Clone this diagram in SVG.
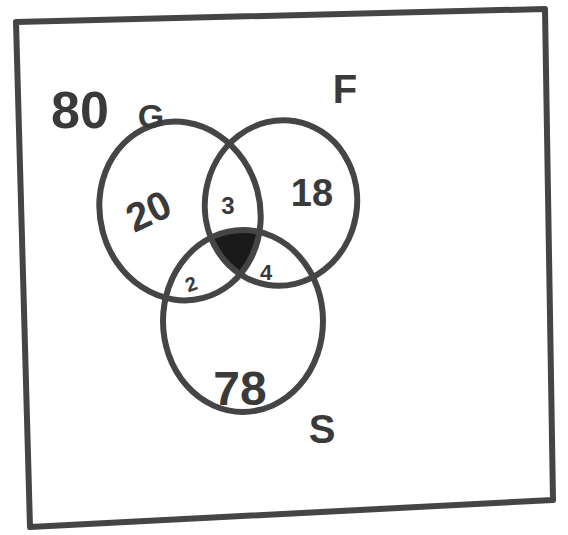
<svg xmlns="http://www.w3.org/2000/svg" width="568" height="535" viewBox="0 0 568 535">
<style>
.ln{fill:none;stroke:#454545;stroke-width:6;stroke-linecap:round;stroke-linejoin:round}
.t{font-family:"Liberation Sans","DejaVu Sans",sans-serif;fill:#3a3a3a;font-weight:bold;text-anchor:middle}
.d{fill:#1a1a1a}
</style>
<defs>
<clipPath id="cg"><ellipse cx="180" cy="211" rx="80" ry="90" transform="rotate(-15 180 211)"/></clipPath>
<clipPath id="cf"><ellipse cx="281" cy="203" rx="76" ry="83" transform="rotate(10 281 203)"/></clipPath>
</defs>
<rect width="568" height="535" fill="#fff"/>
<g id="frame"><path class="ln" d="M16,22 L545,9 L553,500 L30,527 Z"/></g>
<g id="intersection"><g clip-path="url(#cf)"><g clip-path="url(#cg)"><ellipse class="d" cx="243" cy="321" rx="80" ry="91"/></g></g></g>
<g id="circles">
<g id="G"><ellipse class="ln" cx="180" cy="211" rx="80" ry="90" transform="rotate(-15 180 211)"/></g>
<g id="F"><ellipse class="ln" cx="281" cy="203" rx="76" ry="83" transform="rotate(10 281 203)"/></g>
<g id="S"><ellipse class="ln" cx="243" cy="321" rx="80" ry="91"/></g>
</g>
<g id="labels">
<text class="t" x="80" y="128" font-size="52">80</text>
<text class="t" x="151" y="128" font-size="34" fill="#111">G</text>
<text class="t" x="345" y="103" font-size="40">F</text>
<text class="t" x="322" y="443" font-size="40" fill="#111">S</text>
<text class="t" x="148" y="225" font-size="40" transform="rotate(-25 148 210)">20</text>
<text class="t" x="228" y="214" font-size="24">3</text>
<text class="t" x="312" y="206" font-size="38">18</text>
<text class="t" x="191" y="291" font-size="20" transform="rotate(-20 191 284)">2</text>
<text class="t" x="266" y="280" font-size="22">4</text>
<text class="t" x="240" y="405" font-size="48">78</text>
</g>
</svg>
